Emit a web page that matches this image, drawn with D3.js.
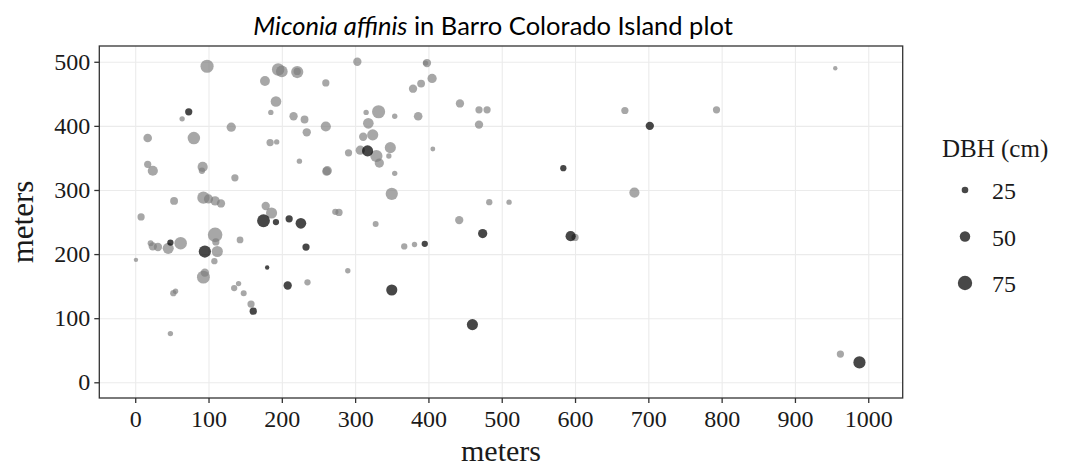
<!DOCTYPE html>
<html lang="en">
<head>
    <meta charset="UTF-8">
    <title>Miconia affinis</title>
    <script src="https://d3js.org/d3.v7.min.js"></script>
    <style type="text/css">
        body {
            margin: 0;
            background: #ffffff;
        }
        .serif {
            font-family: "Liberation Serif", "DejaVu Serif", serif;
            fill: #1a1a1a;
        }
        .grid line {
            stroke: #ebebeb;
            stroke-width: 1.1;
        }
        .grid path {
            display: none;
        }
    </style>
</head>
<body>
<div id="chart"></div>
<script type="text/javascript">
    // tree positions in meters: [x, y, DBH in cm]
    const lightTrees = [
        [98, 493, 67], [195, 488, 63], [200, 485, 58], [221, 484, 61], [221, 485, 29],
        [177, 470, 46], [192, 438, 51], [64, 411, 17], [185, 421, 17], [216, 415, 36],
        [231, 410, 33], [234, 390, 36], [131, 398, 42], [17, 381, 38], [80, 381, 63],
        [184, 374, 29], [193, 375, 17], [224, 345, 17], [17, 340, 29], [24, 330, 48],
        [92, 336, 48], [91, 330, 23], [136, 319, 29], [53, 283, 33], [93, 288, 61],
        [100, 286, 42], [109, 283, 42], [117, 279, 36], [8, 258, 29], [178, 275, 36],
        [186, 264, 54], [21, 217, 21], [24, 212, 36], [31, 211, 36], [45, 209, 54],
        [62, 217, 63], [1, 191, 11], [109, 230, 76], [110, 219, 29], [112, 204, 54],
        [108, 189, 23], [143, 222, 26], [93, 164, 65], [95, 171, 36], [235, 156, 23],
        [135, 147, 23], [141, 154, 17], [148, 139, 21], [158, 122, 29], [52, 139, 23],
        [55, 142, 17], [48, 76, 17], [303, 500, 36], [398, 498, 36], [396, 498, 17],
        [260, 467, 29], [379, 458, 36], [390, 466, 33], [405, 474, 42], [443, 435, 36],
        [469, 425, 29], [480, 425, 29], [469, 402, 36], [260, 399, 48], [315, 421, 17],
        [332, 422, 67], [354, 415, 17], [386, 415, 38], [318, 404, 51], [324, 386, 54],
        [311, 383, 36], [348, 366, 54], [346, 353, 17], [307, 362, 42], [291, 358, 29],
        [329, 353, 61], [333, 342, 42], [406, 364, 14], [262, 330, 42], [261, 329, 38],
        [354, 326, 17], [350, 294, 61], [273, 266, 23], [278, 265, 29], [328, 247, 21],
        [442, 253, 36], [483, 281, 23], [510, 281, 17], [367, 212, 23], [381, 215, 17],
        [290, 174, 17], [955, 490, 11], [668, 424, 29], [793, 425, 29], [681, 296, 48],
        [600, 226, 29], [962, 44, 29]
    ];

    const darkTrees = [
        [73, 422, 29], [175, 252, 65], [192, 250, 23], [210, 255, 29], [226, 248, 51],
        [233, 211, 29], [48, 218, 23], [95, 204, 61], [180, 179, 11], [208, 151, 36],
        [161, 111, 29], [317, 361, 54], [474, 232, 42], [395, 216, 23], [350, 144, 54],
        [460, 90, 54], [702, 400, 36], [584, 334, 23], [594, 228, 48], [988, 31, 61]
    ];

    const xTicks = [0, 100, 200, 300, 400, 500, 600, 700, 800, 900, 1000];
    const yTicks = [0, 100, 200, 300, 400, 500];
    const legendBreaks = [25, 50, 75];

    const W = 1065, H = 469;
    const panel = {left: 99.3, right: 902.7, top: 46, bottom: 398};

    const svg = d3.select('#chart').append('svg')
        .attr('width', W)
        .attr('height', H)
        .style('display', 'block');

    svg.append('rect').attr('width', W).attr('height', H).attr('fill', '#ffffff');

    const x = d3.scaleLinear().domain([-49, 1047]).range([panel.left, panel.right]);
    const y = d3.scaleLinear().domain([-24.5, 524.6]).range([panel.bottom, panel.top]);
    const r = d3.scaleLinear().domain([25, 75]).range([3.3, 7.2]);

    // grid lines
    svg.append('g')
        .attr('class', 'grid')
        .attr('transform', `translate(0,${panel.bottom})`)
        .call(d3.axisBottom(x).tickValues(xTicks).tickSize(-(panel.bottom - panel.top)).tickFormat(''));
    svg.append('g')
        .attr('class', 'grid')
        .attr('transform', `translate(${panel.left},0)`)
        .call(d3.axisLeft(y).tickValues(yTicks).tickSize(-(panel.right - panel.left)).tickFormat(''));

    // points
    svg.append('g').selectAll('circle')
        .data(lightTrees)
        .enter().append('circle')
        .attr('cx', d => x(d[0]))
        .attr('cy', d => y(d[1]))
        .attr('r', d => r(d[2]))
        .attr('fill', '#7d7d7d')
        .attr('fill-opacity', 0.68);

    svg.append('g').selectAll('circle')
        .data(darkTrees)
        .enter().append('circle')
        .attr('cx', d => x(d[0]))
        .attr('cy', d => y(d[1]))
        .attr('r', d => r(d[2]))
        .attr('fill', '#000000')
        .attr('fill-opacity', 0.72);

    // panel border
    svg.append('rect')
        .attr('x', panel.left)
        .attr('y', panel.top)
        .attr('width', panel.right - panel.left)
        .attr('height', panel.bottom - panel.top)
        .attr('fill', 'none')
        .attr('stroke', '#333333')
        .attr('stroke-width', 1.3);

    // axes
    const xAxis = svg.append('g')
        .attr('transform', `translate(0,${panel.bottom})`)
        .call(d3.axisBottom(x).tickValues(xTicks).tickFormat(d3.format('d')).tickSize(5).tickPadding(7));
    const yAxis = svg.append('g')
        .attr('transform', `translate(${panel.left},0)`)
        .call(d3.axisLeft(y).tickValues(yTicks).tickFormat(d3.format('d')).tickSize(5).tickPadding(4));

    [xAxis, yAxis].forEach(a => {
        a.select('.domain').remove();
        a.selectAll('.tick line').attr('stroke', '#333333').attr('stroke-width', 1.3);
        a.selectAll('.tick text')
            .attr('class', 'serif')
            .style('font-size', '24px')
            .attr('fill', '#1a1a1a');
    });

    // axis titles
    svg.append('text')
        .attr('class', 'serif')
        .attr('x', (panel.left + panel.right) / 2)
        .attr('y', 461)
        .attr('text-anchor', 'middle')
        .style('font-size', '30px')
        .text('meters');

    svg.append('text')
        .attr('class', 'serif')
        .attr('transform', `translate(33,${(panel.top + panel.bottom) / 2}) rotate(-90)`)
        .attr('text-anchor', 'middle')
        .style('font-size', '31px')
        .text('meters');

    // title
    const title = svg.append('text')
        .attr('x', (panel.left + panel.right) / 2 - 8)
        .attr('y', 35)
        .attr('text-anchor', 'middle')
        .style('font-family', 'Lato, "Open Sans", sans-serif')
        .style('font-size', '25.5px')
        .attr('fill', '#000000');
    title.append('tspan').style('font-style', 'italic').text('Miconia affinis');
    title.append('tspan').text(' in Barro Colorado Island plot');

    // legend
    const legend = svg.append('g');
    legend.append('text')
        .attr('class', 'serif')
        .attr('x', 942)
        .attr('y', 157)
        .style('font-size', '25px')
        .text('DBH (cm)');

    const items = legend.selectAll('.item')
        .data(legendBreaks)
        .enter().append('g')
        .attr('transform', (d, i) => `translate(0,${190 + i * 46.5})`);
    items.append('circle')
        .attr('cx', 965)
        .attr('cy', 0)
        .attr('r', d => r(d))
        .attr('fill', '#000000')
        .attr('fill-opacity', 0.72);
    items.append('text')
        .attr('class', 'serif')
        .attr('x', 992)
        .attr('y', 9)
        .style('font-size', '24px')
        .text(d => d);
</script>
</body>
</html>
